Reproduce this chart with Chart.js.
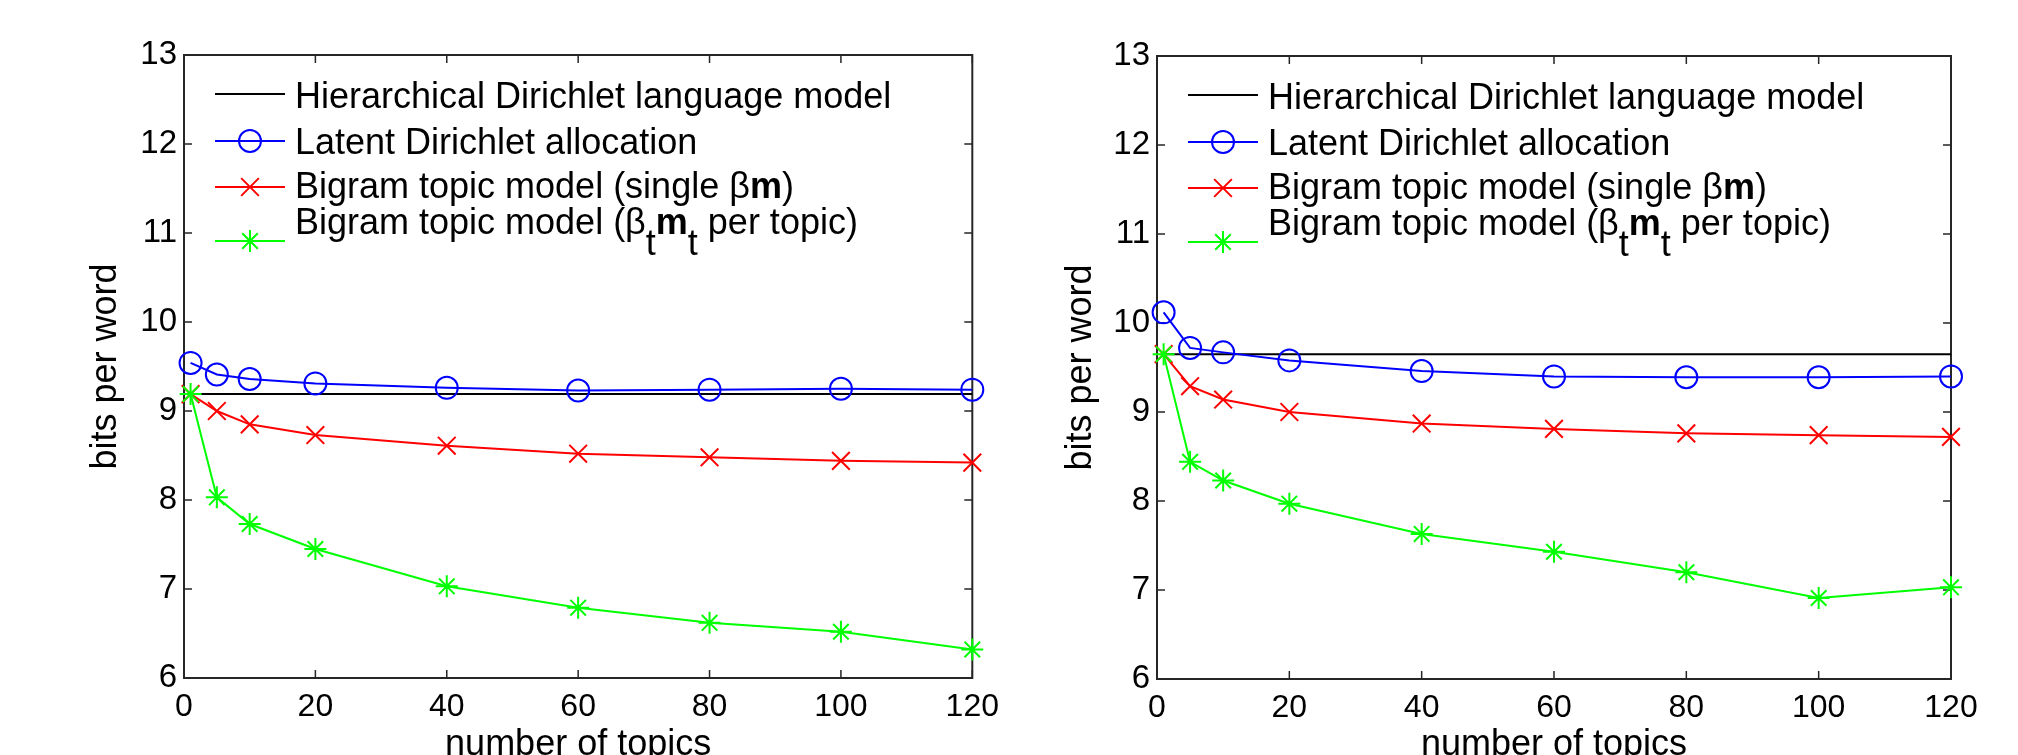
<!DOCTYPE html>
<html>
<head>
<meta charset="utf-8">
<script src="https://cdn.jsdelivr.net/npm/chart.js@4.4.1/dist/chart.umd.min.js"></script>
<style>
  html, body { margin: 0; padding: 0; background: #fff; overflow: hidden; }
  .panel { position: absolute; top: 0; width: 1009px; height: 775px; }
  #leftPanel { left: 0; }
  #rightPanel { left: 1009px; }
</style>
</head>
<body>
<div class="panel" id="leftPanel"><canvas id="leftChart" width="1009" height="775"></canvas></div>
<div class="panel" id="rightPanel"><canvas id="rightChart" width="1009" height="775"></canvas></div>
<script>
/* ======================
   DATA
====================== */

const topics = [1, 5, 10, 20, 40, 60, 80, 100, 120];
const xTicks = [0, 20, 40, 60, 80, 100, 120];
const yTicks = [6, 7, 8, 9, 10, 11, 12, 13];

const seriesNames = [
  "Hierarchical Dirichlet language model",
  "Latent Dirichlet allocation",
  "Bigram topic model (single βm)",
  "Bigram topic model (βtmt per topic)"
];

// left panel
const hdlmLeft = [9.19, 9.19, 9.19, 9.19, 9.19, 9.19, 9.19, 9.19, 9.19];
const ldaLeft = [9.54, 9.41, 9.36, 9.31, 9.26, 9.23, 9.24, 9.25, 9.24];
const bigramSingleLeft = [9.19, 9.00, 8.85, 8.73, 8.61, 8.52, 8.48, 8.44, 8.42];
const bigramTopicLeft = [9.19, 8.03, 7.73, 7.45, 7.03, 6.79, 6.62, 6.52, 6.32];

// right panel
const hdlmRight = [9.65, 9.65, 9.65, 9.65, 9.65, 9.65, 9.65, 9.65, 9.65];
const ldaRight = [10.12, 9.72, 9.67, 9.58, 9.46, 9.40, 9.39, 9.39, 9.40];
const bigramSingleRight = [9.65, 9.29, 9.14, 9.00, 8.87, 8.81, 8.76, 8.74, 8.72];
const bigramTopicRight = [9.65, 8.44, 8.23, 7.97, 7.63, 7.43, 7.20, 6.91, 7.03];

/* ======================
   STYLE
====================== */

const FONT = "'Liberation Sans', Arial, Helvetica, sans-serif";
const AXIS_COLOR = "#262626";
const colors = ["#000000", "#0000ff", "#ff0000", "#00ff00"];
const markers = [false, "circle", "crossRot", "star"];
const markerSize = [0, 11, 12.5, 11];

// legend text pieces (bold / subscript parts)
const legendParts = [
  [{ t: "Hierarchical Dirichlet language model" }],
  [{ t: "Latent Dirichlet allocation" }],
  [{ t: "Bigram topic model (single β" }, { t: "m", bold: true }, { t: ")" }],
  [{ t: "Bigram topic model (β" }, { t: "t", sub: true }, { t: "m", bold: true },
   { t: "t", sub: true }, { t: " per topic)" }]
];

const toPoints = ys => topics.map((x, i) => ({ x: x, y: ys[i] }));

/* ======================
   PLUGINS
====================== */

const framePlugin = {
  id: "frame",
  beforeDatasetsDraw(chart) {
    const { ctx, chartArea: a } = chart;
    const xs = chart.scales.x, ys = chart.scales.y;
    ctx.save();
    ctx.strokeStyle = AXIS_COLOR;
    ctx.lineWidth = 1.5;
    ctx.beginPath();
    xs.ticks.forEach(t => {
      const px = xs.getPixelForValue(t.value);
      ctx.moveTo(px, a.bottom); ctx.lineTo(px, a.bottom - 8);
      ctx.moveTo(px, a.top); ctx.lineTo(px, a.top + 8);
    });
    ys.ticks.forEach(t => {
      const py = ys.getPixelForValue(t.value);
      ctx.moveTo(a.left, py); ctx.lineTo(a.left + 8, py);
      ctx.moveTo(a.right, py); ctx.lineTo(a.right - 8, py);
    });
    ctx.stroke();
    ctx.lineWidth = 2;
    ctx.strokeRect(a.left, a.top, a.right - a.left, a.bottom - a.top);
    ctx.restore();
  }
};

const legendPlugin = {
  id: "richLegend",
  afterDatasetsDraw(chart) {
    const { ctx, chartArea: a } = chart;
    const lineY = [39, 86, 132, 186];
    const textY = [53, 99, 143, 179];
    ctx.save();
    legendParts.forEach((parts, i) => {
      // sample line + marker
      ctx.strokeStyle = colors[i];
      ctx.fillStyle = "rgba(0,0,0,0)";
      ctx.lineWidth = 2;
      ctx.beginPath();
      ctx.moveTo(a.left + 31, a.top + lineY[i]);
      ctx.lineTo(a.left + 101, a.top + lineY[i]);
      ctx.stroke();
      if (markers[i]) {
        Chart.helpers.drawPoint(ctx, {
          pointStyle: markers[i], radius: markerSize[i], rotation: 0, borderWidth: 2
        }, a.left + 66, a.top + lineY[i]);
      }
      // text
      let x = a.left + 111;
      ctx.fillStyle = "#000";
      ctx.textBaseline = "alphabetic";
      ctx.textAlign = "left";
      parts.forEach(p => {
        ctx.font = (p.bold ? "bold " : "") + "36px " + FONT;
        const y = a.top + textY[i] + (p.sub ? 21 : 0);
        ctx.fillText(p.t, x, y);
        x += ctx.measureText(p.t).width;
      });
    });
    ctx.restore();
  }
};

/* ======================
   CHART BUILDER
====================== */

function makeChart(id, series, pad, yTitlePad) {
  const ctx = document.getElementById(id).getContext("2d");
  return new Chart(ctx, {
    type: "line",
    data: {
      datasets: series.map((ys, i) => ({
        label: seriesNames[i],
        data: toPoints(ys),
        borderColor: colors[i],
        borderWidth: 2,
        pointStyle: markers[i] || "circle",
        pointRadius: markerSize[i],
        pointHoverRadius: markerSize[i],
        pointBorderColor: colors[i],
        pointBackgroundColor: "rgba(0,0,0,0)",
        pointBorderWidth: 2,
        tension: 0,
        clip: false,
        order: 4 - i
      }))
    },
    options: {
      responsive: false,
      devicePixelRatio: 1,
      animation: false,
      layout: { padding: pad },
      plugins: { legend: { display: false }, tooltip: { enabled: false } },
      scales: {
        x: {
          type: "linear",
          min: 0,
          max: 120,
          afterBuildTicks: s => { s.ticks = xTicks.map(v => ({ value: v })); },
          afterFit: s => { s.height = 775 - 678 - (pad.bottom || 0) - (pad.extraBottom || 0); },
          grid: { display: false, drawTicks: false },
          border: { display: false },
          ticks: { color: "#000", padding: 10, maxRotation: 0, font: { family: FONT, size: 32 } },
          title: {
            display: true, text: "number of topics", color: "#000",
            padding: { top: 0, bottom: 8 },
            font: { family: FONT, size: 36 }
          }
        },
        y: {
          min: 6,
          max: 13,
          afterBuildTicks: s => { s.ticks = yTicks.map(v => ({ value: v })); },
          afterFit: s => { s.width = pad.yWidth; },
          grid: { display: false, drawTicks: false },
          border: { display: false },
          ticks: { color: "#000", padding: 7, font: { family: FONT, size: 33 } },
          title: {
            display: true, text: "bits per word", color: "#000",
            padding: { top: yTitlePad, bottom: 0 },
            font: { family: FONT, size: 36 }
          }
        }
      }
    },
    plugins: [framePlugin, legendPlugin]
  });
}

/* ======================
   LEFT + RIGHT PANELS
====================== */

makeChart("leftChart",
  [hdlmLeft, ldaLeft, bigramSingleLeft, bigramTopicLeft],
  { left: 0, top: 55, right: 33, bottom: 0, yWidth: 184 }, 84);

makeChart("rightChart",
  [hdlmRight, ldaRight, bigramSingleRight, bigramTopicRight],
  { left: 0, top: 56, right: 67, bottom: 0, yWidth: 148, extraBottom: 1 }, 50);
</script>
</body>
</html>
